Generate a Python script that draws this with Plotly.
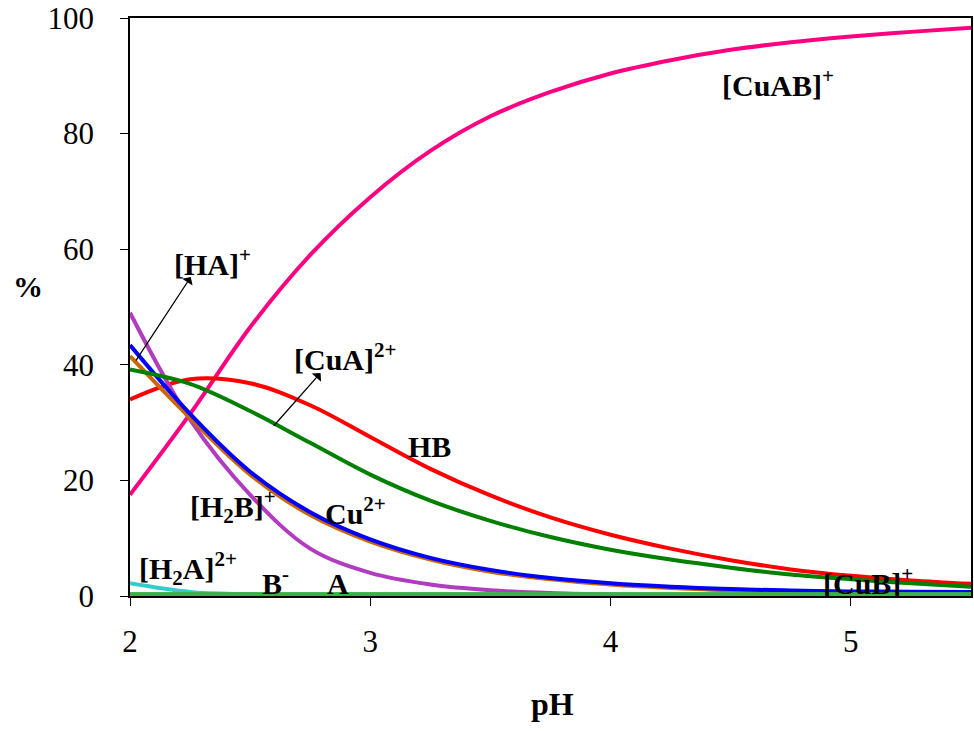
import plotly.graph_objects as go

pH = [2, 2.25, 2.5, 2.75, 3, 3.25, 3.5, 3.75, 4, 4.25, 4.5, 4.75, 5, 5.25, 5.5]

cuab = [17.5, 31.5, 46.5, 59, 69, 77, 83, 87.2, 90.4, 92.7, 94.5, 95.8, 96.8, 97.6, 98.3]
hb = [34, 37.5, 36.8, 33, 27.5, 22, 17.4, 13.6, 10.6, 8.2, 6.2, 4.6, 3.5, 2.7, 2.1]
cua = [39.2, 36.7, 32, 26.5, 21, 16.5, 13, 10.2, 8, 6.3, 4.9, 3.7, 2.9, 2.2, 1.6]
cu = [43.4, 31.5, 21.5, 14.5, 9.8, 6.6, 4.5, 3.1, 2.2, 1.6, 1.2, 0.95, 0.8, 0.75, 0.7]
h2b = [41.5, 30.8, 21, 14, 9.4, 6.3, 4.2, 2.9, 2.0, 1.4, 1.0, 0.7, 0.5, 0.4, 0.3]
ha = [49, 30.5, 17.5, 8.2, 4, 2, 1, 0.5, 0.25, 0.1, 0.05, 0.05, 0.05, 0.05, 0.05]
h2a = [2.2, 0.7, 0.3, 0.1, 0.05, 0.02, 0.01, 0, 0, 0, 0, 0, 0, 0, 0]
bm = [0.3] * 15
a_free = [0.3] * 15

series = [
    ("[CuAB]+", cuab, "#FF0080"),
    ("HB", hb, "#FF0000"),
    ("[HA]+", ha, "#B03CC0"),
    ("[H2B]+", h2b, "#CC6600"),
    ("Cu2+", cu, "#0000FF"),
    ("[CuA]2+", cua, "#008000"),
    ("[H2A]2+", h2a, "#33CCCC"),
    ("B-", bm, "#3CB04A"),
    ("A", a_free, "#3CB04A"),
]

# labels: (text, left-x, center-y)
labels = [
    ("[CuAB]<sup>+</sup>", 4.456, 88.8),
    ("[HA]<sup>+</sup>", 2.174, 57.8),
    ("[CuA]<sup>2+</sup>", 2.676, 41.3),
    ("HB", 3.149, 25.8),
    ("[H<sub>2</sub>B]<sup>+</sup>", 2.241, 15.4),
    ("Cu<sup>2+</sup>", 2.805, 14.7),
    ("[H<sub>2</sub>A]<sup>2+</sup>", 2.029, 4.8),
    ("B<sup>-</sup>", 2.539, 2.6),
    ("A", 2.813, 2.1),
    ("[CuB]<sup>+</sup>", 4.876, 2.6),
]

# arrows: (tail x, tail y, head x, head y)
arrows = [
    (2.021, 40.5, 2.253, 55.2),
    (2.593, 29.2, 2.793, 38.6),
]

FONT = "Liberation Serif"

fig = go.Figure()
for name, vals, col in series:
    fig.add_trace(go.Scatter(x=pH, y=vals, mode="lines", name=name,
                             line=dict(color=col, width=4, shape="spline", smoothing=1.0),
                             showlegend=False, hoverinfo="skip"))

ann = []
for txt, x, y in labels:
    ann.append(dict(x=x, y=y, xref="x", yref="y", text="<b>" + txt + "</b>",
                    showarrow=False, xanchor="left", yanchor="middle",
                    font=dict(family=FONT, size=30, color="black")))
for tx, ty, hx, hy in arrows:
    ann.append(dict(x=hx, y=hy, ax=tx, ay=ty, xref="x", yref="y", axref="x", ayref="y",
                    text="", showarrow=True, arrowhead=1, arrowsize=1.6, arrowwidth=1.3,
                    arrowcolor="black", standoff=0, startstandoff=0))
ann.append(dict(x=-0.121, y=0.536, xref="paper", yref="paper", text="<b>%</b>",
                showarrow=False, xanchor="center", yanchor="middle",
                font=dict(family=FONT, size=30, color="black")))
ann.append(dict(x=0.502, y=-0.186, xref="paper", yref="paper", text="<b>pH</b>",
                showarrow=False, xanchor="center", yanchor="middle",
                font=dict(family=FONT, size=32, color="black")))

fig.update_layout(
    width=974, height=731,
    margin=dict(l=130, r=1, t=18, b=135),
    paper_bgcolor="white", plot_bgcolor="white",
    font=dict(family=FONT, size=31, color="black"),
    annotations=ann,
    xaxis=dict(range=[2, 5.5], tickvals=[2, 3, 4, 5], ticks="outside", ticklen=8,
               tickwidth=1.3, tickcolor="black", showline=True, linecolor="black",
               linewidth=1.5, mirror=True, showgrid=False, zeroline=False,
               layer="below traces", ticklabelstandoff=9,
               tickfont=dict(family=FONT, size=31, color="black")),
    yaxis=dict(range=[0, 100], tickvals=[0, 20, 40, 60, 80, 100], ticks="outside",
               ticklen=8, tickwidth=1.3, tickcolor="black", showline=True,
               linecolor="black", linewidth=1.5, mirror=True, showgrid=False,
               zeroline=False, layer="below traces", ticklabelstandoff=20,
               tickfont=dict(family=FONT, size=31, color="black")),
)

fig.write_html("out.html")
